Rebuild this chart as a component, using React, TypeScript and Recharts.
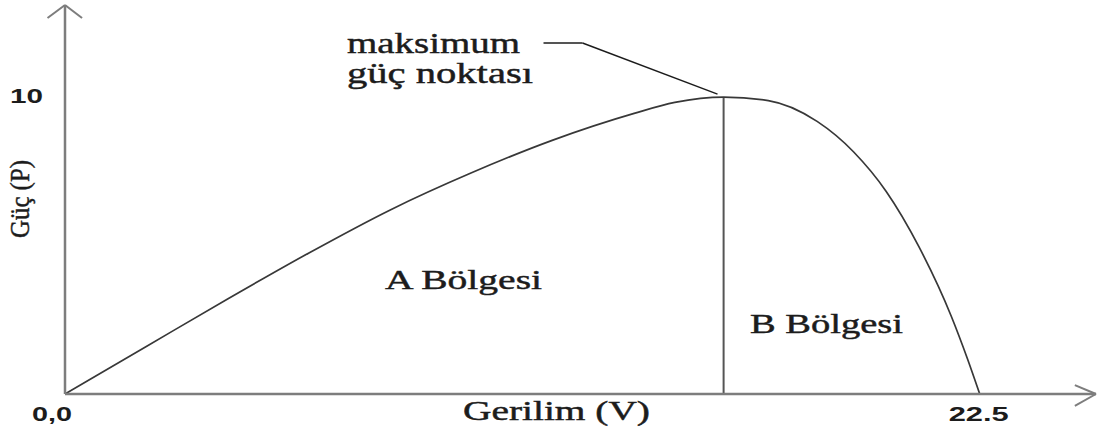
import { LineChart, Line, XAxis, YAxis, ReferenceLine, Customized } from "recharts"

// P-V curve of a PV panel (voltage in V, power normalised so the peak is 10)
const voltage = [0, 2, 4, 6, 8, 10, 12, 14, 15, 16.2, 17.3, 18.5, 19.4, 20.2, 21, 21.8, 22.2, 22.5]
const power = [0, 1.6, 3.2, 4.75, 6.2, 7.45, 8.55, 9.45, 9.82, 10, 9.88, 9.18, 8.15, 6.82, 4.97, 2.62, 1.18, 0]

const xTicks = [0, 22.5]
const xTickLabels = ["0,0", "22.5"]
const yTicks = [10]
const yTickLabels = ["10"]

// maximum power point
const mppV = 16.2
const mppP = 10

// axis extents (arrow tips)
const xMax = 25.36
const yMax = 13.1

const data = voltage.map((v, i) => ({ v, p: power[i] }))

const AXIS = "#7d7d7d"
const INK = "#1c1c1c"
const SERIF = "'Liberation Serif', 'Times New Roman', serif"
const SANS = "'Liberation Sans', Arial, sans-serif"

function XTick(props: any) {
  const { x, y, payload } = props
  const idx = xTicks.indexOf(payload.value)
  const label = xTickLabels[idx]
  const shift = idx === 0 ? -13 : -1
  const len = idx === 0 ? 40 : 60
  return (
    <text
      x={x + shift}
      y={y + 27}
      textAnchor="middle"
      fontFamily={SANS}
      fontWeight="bold"
      fontSize={20}
      fill={INK}
      textLength={len}
      lengthAdjust="spacingAndGlyphs"
    >
      {label}
    </text>
  )
}

function YTick(props: any) {
  const { x, y, payload } = props
  const label = yTickLabels[yTicks.indexOf(payload.value)]
  return (
    <text
      x={x - 22}
      y={y + 6}
      textAnchor="end"
      fontFamily={SANS}
      fontWeight="bold"
      fontSize={20}
      fill={INK}
      textLength={33}
      lengthAdjust="spacingAndGlyphs"
    >
      {label}
    </text>
  )
}

function Labels() {
  const t = (x: number, y: number, s: string, len: number, size: number) => (
    <text
      x={x}
      y={y}
      fontFamily={SERIF}
      fontSize={size}
      fill={INK}
      stroke={INK}
      strokeWidth={0.45}
      textLength={len}
      lengthAdjust="spacingAndGlyphs"
    >
      {s}
    </text>
  )
  return (
    <g>
      {t(347, 53, "maksimum", 173, 29)}
      {t(347, 83, "güç noktası", 186, 29)}
      {t(385, 289, "A Bölgesi", 157, 27)}
      {t(750, 333, "B Bölgesi", 153, 27)}
      {t(463, 420, "Gerilim (V)", 187, 27)}
      <text
        transform="translate(29, 199) rotate(-90)"
        textAnchor="middle"
        fontFamily={SERIF}
        fontSize={27}
        fill={INK}
        stroke={INK}
        strokeWidth={0.45}
        textLength={78}
        lengthAdjust="spacingAndGlyphs"
      >
        Güç (P)
      </text>
    </g>
  )
}

export default function App() {
  return (
    <div style={{ position: "absolute", left: 0, top: 0, background: "#fff" }}>
      <LineChart width={1102} height={432} data={data} margin={{ top: 5, right: 6, bottom: 0, left: 0 }}>
        <XAxis
          dataKey="v"
          type="number"
          domain={[0, xMax]}
          ticks={xTicks}
          tick={<XTick />}
          tickLine={false}
          tickSize={0}
          tickMargin={0}
          height={38}
          axisLine={{ stroke: AXIS, strokeWidth: 2.5 }}
          allowDataOverflow
        />
        <YAxis
          type="number"
          domain={[0, yMax]}
          ticks={yTicks}
          tick={<YTick />}
          tickLine={false}
          tickSize={0}
          tickMargin={0}
          width={65}
          axisLine={{ stroke: AXIS, strokeWidth: 2.5 }}
          allowDataOverflow
        />
        {/* axis arrow heads */}
        <ReferenceLine segment={[{ x: -0.43, y: 12.66 }, { x: 0, y: yMax }]} stroke={AXIS} strokeWidth={2} ifOverflow="visible" />
        <ReferenceLine segment={[{ x: 0.42, y: 12.66 }, { x: 0, y: yMax }]} stroke={AXIS} strokeWidth={2} ifOverflow="visible" />
        <ReferenceLine segment={[{ x: 24.84, y: 0.3 }, { x: xMax, y: 0 }]} stroke={AXIS} strokeWidth={2} ifOverflow="visible" />
        <ReferenceLine segment={[{ x: 24.84, y: -0.4 }, { x: xMax, y: 0 }]} stroke={AXIS} strokeWidth={2} ifOverflow="visible" />
        {/* boundary between region A and B */}
        <ReferenceLine segment={[{ x: mppV, y: 0 }, { x: mppV, y: mppP }]} stroke="#555" strokeWidth={2} ifOverflow="visible" />
        {/* leader to the maximum power point */}
        <ReferenceLine segment={[{ x: 11.77, y: 11.82 }, { x: 12.73, y: 11.82 }]} stroke={INK} strokeWidth={1.5} ifOverflow="visible" />
        <ReferenceLine segment={[{ x: 12.73, y: 11.82 }, { x: 16.05, y: 10.1 }]} stroke={INK} strokeWidth={1.5} ifOverflow="visible" />
        <Line
          type="monotone"
          dataKey="p"
          stroke="#383838"
          strokeWidth={1.7}
          dot={false}
          isAnimationActive={false}
        />
        <Customized component={Labels} />
      </LineChart>
    </div>
  )
}
